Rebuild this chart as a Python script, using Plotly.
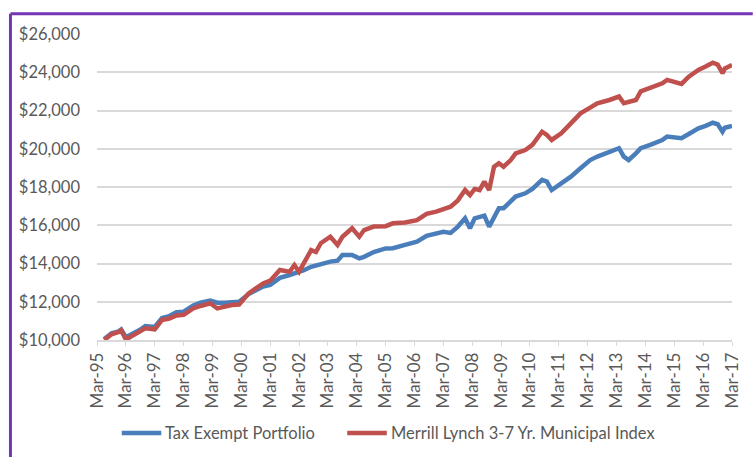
import plotly.graph_objects as go

# Month-end growth of $10,000, Jun-1995 through Mar-2017
dates = [
    "1995-06", "1995-09", "1995-12", "1996-01", "1996-03", "1996-06", "1996-09", "1996-11",
    "1997-03", "1997-06", "1997-09", "1997-12", "1998-03", "1998-07", "1998-10", "1999-02",
    "1999-05", "1999-08", "1999-11", "2000-02", "2000-06", "2000-09", "2000-12", "2001-03",
    "2001-07", "2001-11", "2002-01", "2002-03", "2002-05", "2002-08", "2002-10", "2002-12",
    "2003-04", "2003-07", "2003-09", "2004-01", "2004-04", "2004-06", "2004-10", "2005-03",
    "2005-06", "2005-11", "2006-04", "2006-08", "2006-12", "2007-03", "2007-06", "2007-09",
    "2007-12", "2008-02", "2008-04", "2008-06", "2008-08", "2008-10", "2008-12", "2009-02",
    "2009-04", "2009-07", "2009-09", "2010-01", "2010-04", "2010-08", "2010-10", "2010-12",
    "2011-04", "2011-08", "2011-12", "2012-04", "2012-07", "2012-12", "2013-04", "2013-06",
    "2013-08", "2013-11", "2014-01", "2014-05", "2014-10", "2014-12", "2015-06", "2015-09",
    "2016-01", "2016-04", "2016-07", "2016-09", "2016-11", "2016-12", "2017-03",
]

tax_exempt = [
    10050, 10350, 10450, 10550, 10150, 10330, 10550, 10730,
    10680, 11150, 11250, 11450, 11480, 11800, 11950, 12060,
    11950, 11950, 12000, 12000, 12400, 12600, 12800, 12880,
    13250, 13400, 13480, 13570, 13650, 13830, 13900, 13980,
    14100, 14150, 14440, 14450, 14270, 14350, 14600, 14790,
    14800, 14970, 15140, 15450, 15580, 15660, 15600, 15930,
    16360, 15840, 16360, 16450, 16500, 15930, 16450, 16890,
    16890, 17230, 17500, 17670, 17900, 18370, 18280, 17840,
    18190, 18540, 18980, 19410, 19590, 19850, 20030, 19590,
    19410, 19760, 20030, 20200, 20450, 20640, 20550, 20770,
    21070, 21200, 21360, 21280, 20890, 21100, 21190,
]

ml_muni_3_7 = [
    10000, 10300, 10420, 10500, 10030, 10230, 10450, 10610,
    10560, 11050, 11120, 11280, 11320, 11650, 11780, 11920,
    11650, 11750, 11830, 11850, 12440, 12700, 12960, 13100,
    13660, 13570, 13920, 13570, 14050, 14700, 14600, 15060,
    15400, 14970, 15400, 15840, 15400, 15750, 15930, 15950,
    16100, 16140, 16270, 16600, 16710, 16830, 16970, 17300,
    17840, 17580, 17900, 17840, 18280, 17840, 19060, 19240,
    19060, 19410, 19760, 19930, 20200, 20890, 20720, 20460,
    20810, 21330, 21850, 22150, 22380, 22550, 22730, 22380,
    22450, 22550, 23000, 23160, 23420, 23600, 23390, 23770,
    24120, 24300, 24500, 24400, 23950, 24200, 24380,
]

series_names = ["Tax Exempt Portfolio", "Merrill Lynch 3-7 Yr. Municipal Index"]
series_colors = ["#4a7ebb", "#c0504d"]

W, H = 754, 457
ML, MR, MT, MB = 97, 15, 34, 117
PW, PH = W - ML - MR, H - MT - MB


def px_x(p):
    return (p - ML) / PW


def px_y(p):
    return (H - MB - p) / PH


FONT = "Lato, sans-serif"
GREY = "#595959"

fig = go.Figure()
for name, vals, col in zip(series_names, [tax_exempt, ml_muni_3_7], series_colors):
    fig.add_trace(go.Scatter(
        x=dates, y=vals, name=name, mode="lines",
        line=dict(color=col, width=4.5),
    ))

# legend drawn below the axis: a 40px swatch followed by the series name
legend_y = px_y(433)
for (x_line, x_text), name, col in zip([(122, 164), (350, 392)], series_names, series_colors):
    fig.add_shape(type="line", xref="paper", yref="paper",
                  x0=px_x(x_line), x1=px_x(x_line + 40), y0=legend_y, y1=legend_y,
                  line=dict(color=col, width=4.5))
    fig.add_annotation(xref="paper", yref="paper", x=px_x(x_text), y=legend_y,
                       text=name, showarrow=False, xanchor="left", yanchor="middle",
                       font=dict(family=FONT, size=16.5, color=GREY))

# purple frame around the chart (top and left edges)
frame = "#7535b5"
fig.add_shape(type="line", xref="paper", yref="paper",
              x0=px_x(9.5), x1=px_x(760), y0=px_y(13.8), y1=px_y(13.8),
              line=dict(color=frame, width=3))
fig.add_shape(type="line", xref="paper", yref="paper",
              x0=px_x(9.5), x1=px_x(9.5), y0=px_y(13.8), y1=px_y(470),
              line=dict(color=frame, width=3))

fig.update_layout(
    width=W, height=H,
    margin=dict(l=ML, r=MR, t=MT, b=MB),
    paper_bgcolor="white", plot_bgcolor="white",
    font=dict(family=FONT, size=15, color=GREY),
    showlegend=False,
    xaxis=dict(
        type="date", range=["1995-03-01", "2017-03-01"],
        tick0="1995-03-01", dtick="M12", tickformat="%b-%y",
        tickangle=-90, ticks="outside", ticklen=4, tickcolor="#d9d9d9",
        showline=True, linecolor="#d9d9d9", linewidth=1.5,
        showgrid=False, zeroline=False,
        tickfont=dict(size=17, color=GREY),
    ),
    yaxis=dict(
        range=[10000, 26000], dtick=2000, tickformat="$,.0f",
        showgrid=True, gridcolor="#d9d9d9", gridwidth=1.5,
        zeroline=False, showline=False, ticks="",
        ticklabelstandoff=16,
        tickfont=dict(size=16.5, color=GREY),
    ),
)

fig.write_html("out.html")
